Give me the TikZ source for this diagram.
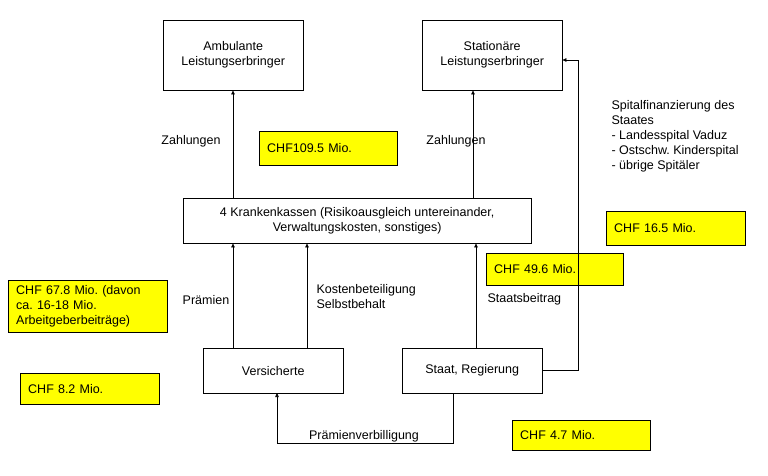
\documentclass[tikz,border=0pt]{standalone}
\usepackage{fontspec}
\setmainfont{Liberation Sans}
\usetikzlibrary{positioning,arrows.meta}
\definecolor{ChfYellow}{RGB}{255,255,0}
\frenchspacing

\begin{document}
\begin{tikzpicture}[x=1pt,y=-1pt,font=\fontsize{12.5}{15}\selectfont,
  flowbox/.style={draw,fill=white,align=center,inner sep=0pt},
  chfbox/.style={draw,fill=ChfYellow,align=left,anchor=north west,inner xsep=8pt,inner ysep=0pt},
  flowarrow/.style={-{Triangle[length=4pt,width=3.5pt]},line width=0.6pt}]
\useasboundingbox (0,0) rectangle (768,476);
% Leistungserbringer
\node[flowbox,minimum width=140pt,minimum height=70pt,anchor=north west] (amb) at (163,20) {Ambulante\\Leistungserbringer};
\node[flowbox,minimum width=140pt,minimum height=70pt,anchor=north west] (stat) at (422,20) {Station\"are\\Leistungserbringer};
% Krankenkassen
\node[flowbox,minimum width=348pt,minimum height=45pt,anchor=north west] (kk) at (183,198) {4 Krankenkassen (Risikoausgleich untereinander,\\Verwaltungskosten, sonstiges)};
% Versicherte und Staat
\node[flowbox,minimum width=140pt,minimum height=45pt,anchor=north west] (vers) at (203,348) {Versicherte};
\node[flowbox,minimum width=140pt,minimum height=45pt,anchor=north west] (staat) at (402,348) {Staat, Regierung};
% Betraege
\node[chfbox,minimum height=34pt,text width=122pt] (chf1) at (259,131) {CHF109.5 Mio.};
\node[chfbox,minimum height=34pt,text width=123pt] (chf2) at (606,211) {CHF 16.5 Mio.};
\node[chfbox,minimum height=32pt,text width=121pt] (chf3) at (486,253) {CHF 49.6 Mio.};
\node[chfbox,minimum height=52pt,text width=143pt] (chf4) at (8,280) {CHF 67.8 Mio. (davon\\ca. 16-18 Mio.\\Arbeitgeberbeitr\"age)};
\node[chfbox,minimum height=31pt,text width=123pt] (chf5) at (20,373) {CHF 8.2 Mio.};
\node[chfbox,minimum height=30pt,text width=122pt] (chf6) at (512,420) {CHF 4.7 Mio.};
% Pfeile
\coordinate (k1) at (233,198);
\coordinate (k2) at (473,198);
\draw[flowarrow] (k1) -- (k1 |- amb.south);
\draw[flowarrow] (k2) -- (k2 |- stat.south);
\coordinate (v1) at (233,348);
\coordinate (v2) at (307,348);
\coordinate (s1) at (476,348);
\draw[flowarrow] (v1) -- (v1 |- kk.south);
\draw[flowarrow] (v2) -- (v2 |- kk.south);
\draw[flowarrow] (s1) -- (s1 |- kk.south);
\coordinate (sr) at (578,60);
\draw[flowarrow] (staat.east) -| (sr) -- (stat.east |- sr);
\coordinate (sb) at (453,393);
\coordinate (vb) at (277,393);
\draw[flowarrow] (sb) -- (453,443) -- (277,443) -- (vb);
% Beschriftungen
\node (lz1) at (191,141) {Zahlungen};
\node (lz2) at (456,141) {Zahlungen};
\node (lpr) at (206,300) {Pr\"amien};
\node[align=left,anchor=west] (lko) at (313,297) {Kostenbeteiligung\\Selbstbehalt};
\node[anchor=west] (lsb) at (484,299) {Staatsbeitrag};
\node[align=left,anchor=north west] (lsp) at (608,97) {Spitalfinanzierung des\\Staates\\- Landesspital Vaduz\\- Ostschw. Kinderspital\\- \"ubrige Spit\"aler};
\node (lpv) at (364,436) {Pr\"amienverbilligung};
\end{tikzpicture}
\end{document}
